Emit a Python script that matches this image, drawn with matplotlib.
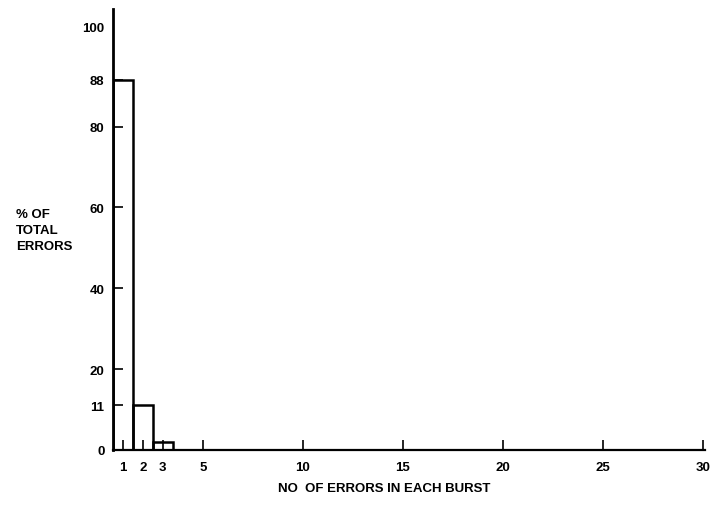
import numpy as np
import matplotlib.pyplot as plt

# burst size histogram (percent of total errors)
burst_sizes = [1, 2, 3]
pct_errors = [88, 11, 2]

xtick_vals = [1, 2, 3, 5, 10, 15, 20, 25, 30]
ytick_vals = [0, 11, 20, 40, 60, 80, 88, 100]
ytick_labels = ['0', '11', '20', '40', '60', '80', '88', '100']

# the original drawing's y axis is not evenly spaced above 80
y_data = [0, 80, 88, 100, 104]
y_draw = [0, 80, 91.6, 104.7, 109.2]


def fwd(v):
    return np.interp(v, y_data, y_draw)


def inv(v):
    return np.interp(v, y_draw, y_data)


plt.rcParams['font.family'] = ['Liberation Sans', 'DejaVu Sans']

fig = plt.figure(figsize=(7.1, 5.06), dpi=100)
ax = fig.add_axes([0.159, 0.109, 0.834, 0.872])
ax.set_yscale('function', functions=(fwd, inv))

# outlined bars, no fill
ax.bar(burst_sizes, pct_errors, width=1.0, fill=False,
       edgecolor='black', linewidth=1.8)
# tail of the distribution runs along the baseline
ax.plot([3.5, 30.1], [0, 0], color='black', lw=1.8)

ax.set_xlim(0.5, 30.1)
ax.set_ylim(0, 104)

ax.spines['top'].set_visible(False)
ax.spines['right'].set_visible(False)
ax.spines['left'].set_linewidth(2)
ax.spines['bottom'].set_linewidth(1.6)

ax.set_xticks(xtick_vals)
ax.set_xticklabels([str(v) for v in xtick_vals])
ax.set_yticks(ytick_vals)
ax.set_yticklabels(ytick_labels)
ax.yaxis.set_minor_locator(plt.NullLocator())
ax.tick_params(axis='both', direction='in', length=7, width=1.2,
               labelsize=9.5)
ax.tick_params(axis='y', pad=6)
ax.tick_params(axis='x', pad=8)
ax.yaxis.get_major_ticks()[-1].tick1line.set_visible(False)
for lbl in ax.get_xticklabels() + ax.get_yticklabels():
    lbl.set_fontweight('bold')

fig.text(16 / 710, 1 - 231 / 506, '% OF\nTOTAL\nERRORS', ha='left', va='center',
         fontsize=9.5, fontweight='bold', linespacing=1.5)
fig.text(384 / 710, 1 - 489 / 506, 'NO  OF ERRORS IN EACH BURST', ha='center',
         va='center', fontsize=9.5, fontweight='bold')

fig.savefig('out.png', dpi=100)
